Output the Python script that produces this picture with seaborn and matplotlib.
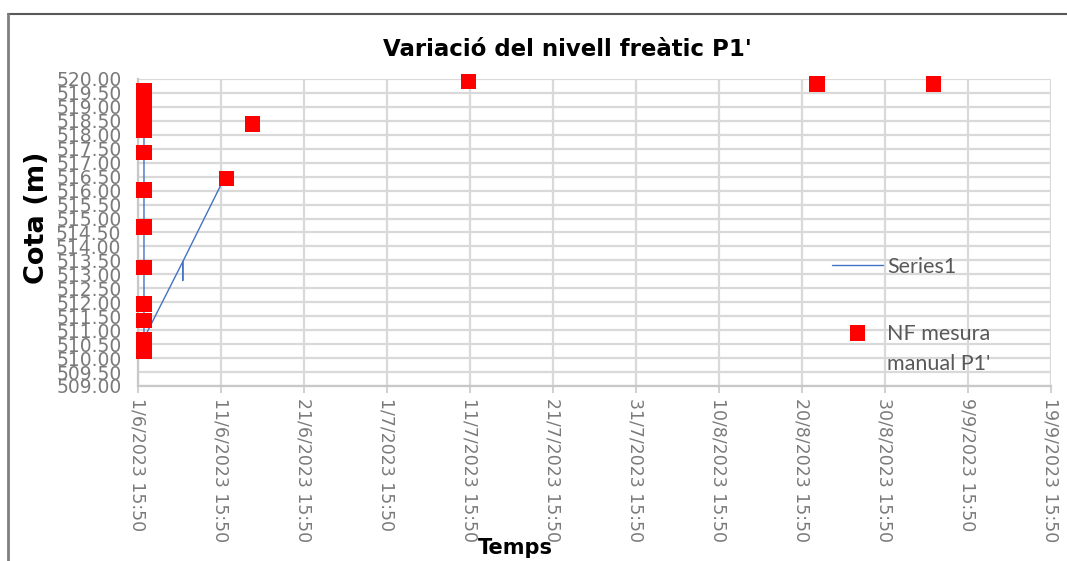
import matplotlib
matplotlib.use("Agg")
import matplotlib.pyplot as plt
from matplotlib.lines import Line2D
import seaborn as sns
import pandas as pd
import numpy as np

# ---- data ----
manual_times = [
    "2023-06-02 09:07", "2023-06-02 09:07", "2023-06-02 09:07", "2023-06-02 09:07",
    "2023-06-02 09:07", "2023-06-02 09:07", "2023-06-02 09:07", "2023-06-02 09:07",
    "2023-06-02 09:07", "2023-06-02 09:07", "2023-06-02 09:07", "2023-06-02 09:07",
    "2023-06-02 09:07",
    "2023-06-12 08:40", "2023-06-15 09:50", "2023-07-11 11:00",
    "2023-08-22 11:00", "2023-09-05 11:00",
]
manual_levels = [
    519.57, 519.20, 518.85, 518.50, 518.17,
    517.37, 516.02, 514.70, 513.24, 511.94, 511.36, 510.66, 510.23,
    516.44, 518.39, 519.91,
    519.82, 519.82,
]

series1_times = [
    "2023-06-02 09:07", "2023-06-02 09:07", "2023-06-02 17:00",
    "2023-06-07 01:10", "2023-06-07 01:10", "2023-06-07 01:10",
    "2023-06-11 15:20",
]
series1_levels = [518.20, 510.90, 510.90, 513.45, 512.78, 513.45, 516.20]

title = "Variació del nivell freàtic P1'"
ylabel = "Cota (m)"
xlabel = "Temps"
series1_label = "Series1"
manual_label = "NF mesura\nmanual P1'"

x_start = pd.Timestamp("2023-06-01 15:50")
x_end = pd.Timestamp("2023-09-19 15:50")
tick_step_days = 10
y_min, y_max, y_step = 509.0, 520.0, 0.5

# ---- plot ----
sns.set_theme(style="white")
plt.rcParams["font.family"] = ["DejaVu Sans"]

fig = plt.figure(figsize=(10.67, 5.61), dpi=100)
ax = fig.add_axes([138 / 1067, 1 - 386 / 561, (1051 - 138) / 1067, (386 - 79) / 561])

df_line = pd.DataFrame({"t": pd.to_datetime(series1_times), "v": series1_levels})
df_pts = pd.DataFrame({"t": pd.to_datetime(manual_times), "v": manual_levels})

sns.lineplot(data=df_line, x="t", y="v", ax=ax, estimator=None, sort=False,
             color="#4472C4", linewidth=1.0, label=series1_label, zorder=3)
sns.scatterplot(data=df_pts, x="t", y="v", ax=ax, marker="s", s=120,
                color="#FF0000", edgecolor="none", linewidth=0,
                label=manual_label, zorder=4, clip_on=False)

ax.set_xlim(x_start, x_end)
ax.set_ylim(y_min, y_max)

xticks = pd.date_range(x_start, x_end, freq=f"{tick_step_days}D")
ax.set_xticks(xticks)
ax.set_xticklabels([f"{d.day}/{d.month}/{d.year} {d:%H:%M}" for d in xticks],
                   rotation=-90, fontsize=12.5, color="#7a7a7a", va="top", ha="center")
yticks = np.arange(y_min, y_max + 0.001, y_step)
ax.set_yticks(yticks)
ax.set_yticklabels([f"{v:.2f}" for v in yticks], fontsize=13.5, color="#7a7a7a")

ax.grid(True, color="#d9d9d9", linewidth=1.6)
ax.set_axisbelow(True)
for s in ["top", "right"]:
    ax.spines[s].set_visible(False)
ax.spines["left"].set_color("#c8c8c8")
ax.spines["left"].set_linewidth(1.6)
ax.spines["bottom"].set_color("#c8c8c8")
ax.spines["bottom"].set_linewidth(1.6)
ax.tick_params(axis="x", which="major", bottom=True, length=5, width=1.2,
               color="#c8c8c8", pad=4)
ax.tick_params(axis="y", which="major", left=False, length=0, pad=12)

ax.set_xlabel("")
ax.set_ylabel("")
fig.text(37 / 1067, 1 - 218 / 561, ylabel, rotation=90, fontsize=19.5,
         fontweight="bold", ha="center", va="center", color="black")
fig.text(515 / 1067, 1 - 548 / 561, xlabel, fontsize=15, fontweight="bold",
         ha="center", va="center", color="black")
fig.text(567 / 1067, 1 - 50 / 561, title, fontsize=16.5, fontweight="bold",
         ha="center", va="center", color="black")

leg = ax.legend(loc="upper left", bbox_to_anchor=(823 / 1067, 1 - 248 / 561),
                bbox_transform=fig.transFigure, frameon=False,
                prop={"family": "Lato", "size": 15.5},
                labelcolor="#595959", handlelength=2.4, handletextpad=0.19,
                labelspacing=2.2, borderaxespad=0, markerscale=1.0,
                scatteryoffsets=[1.6])
for t in leg.get_texts():
    t.set_linespacing(1.64)

# chart frame border
fig.add_artist(Line2D([8 / 1067, 1.0], [1 - 14 / 561, 1 - 14 / 561],
                      transform=fig.transFigure, color="#595959", linewidth=1.5))
fig.add_artist(Line2D([8 / 1067, 8 / 1067], [0, 1 - 14 / 561],
                      transform=fig.transFigure, color="#7f7f7f", linewidth=2))

fig.savefig("out.png", dpi=100)
